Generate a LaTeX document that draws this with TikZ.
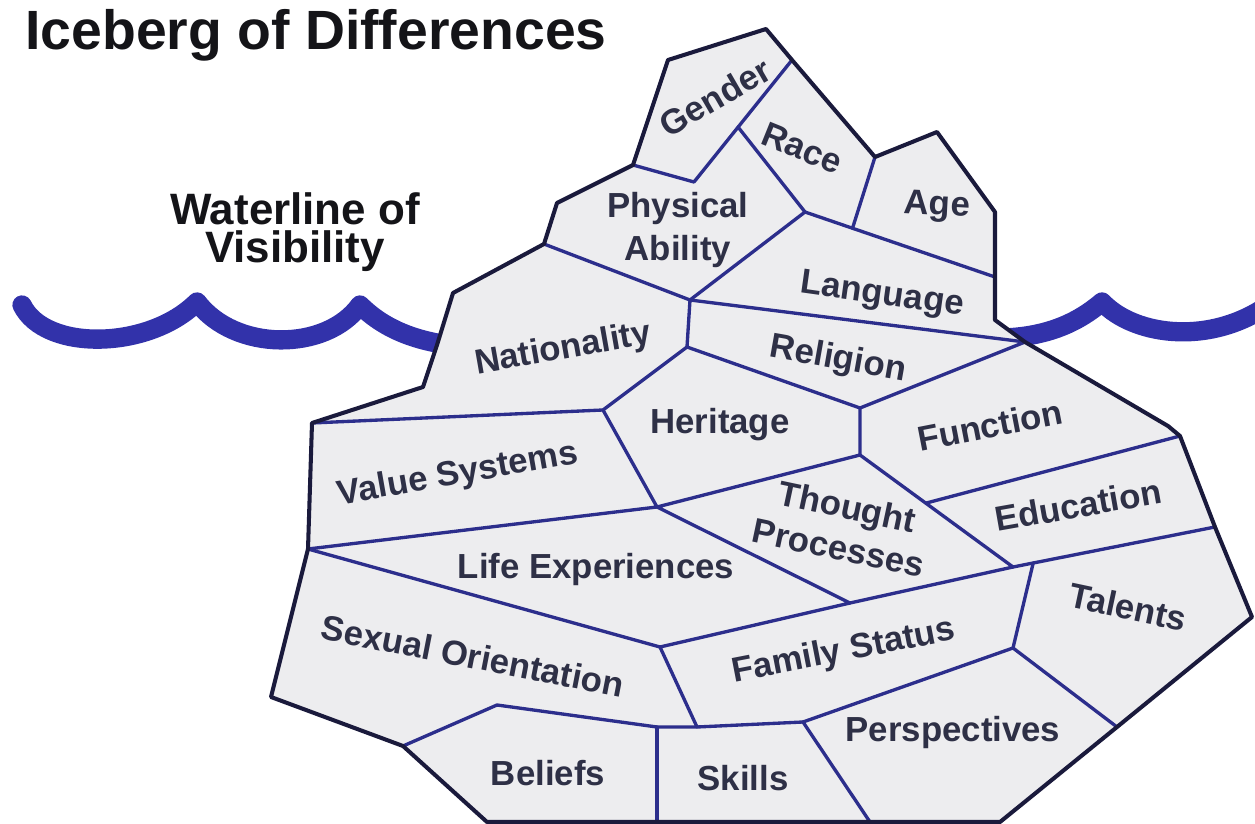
\documentclass[tikz,border=0pt]{standalone}
\usepackage{fontspec}
\setmainfont{Liberation Sans}
\usepackage{tikz}
\usetikzlibrary{calc}
\definecolor{IceFill}{RGB}{237,237,239}
\definecolor{IceEdge}{RGB}{26,26,60}
\definecolor{IceLine}{RGB}{44,46,140}
\definecolor{WaveBlue}{RGB}{50,50,170}
\definecolor{LabelInk}{RGB}{46,48,70}
\definecolor{TitleInk}{RGB}{20,20,24}
\tikzset{
  outline/.style={draw=IceEdge,line width=2.3pt,line join=round},
  seam/.style={draw=IceLine,line width=1.9pt,line cap=round,line join=round},
  wave/.style={draw=WaveBlue,line width=11pt,line cap=round,line join=round},
  part/.style={font=\fontsize{19.8}{24}\selectfont\bfseries,text=LabelInk,align=center,inner sep=0pt},
  heading/.style={font=\fontsize{31.5}{36}\selectfont\bfseries,text=TitleInk,inner sep=0pt},
  waterline/.style={font=\fontsize{25}{22}\selectfont\bfseries,text=TitleInk,align=center,inner sep=0pt}
}

\begin{document}
\begin{tikzpicture}[x=0.02cm,y=-0.02cm]
\useasboundingbox (0,0) rectangle (1255,824);

% water surface, behind the ice
\draw[wave] (22,305) .. controls (45,352) and (149,350) .. (197,302)
  .. controls (235,352) and (326,352) .. (360,305)
  .. controls (385,330) and (420,344) .. (470,347);
\draw[wave] (985,338) .. controls (1040,340) and (1075,325) .. (1102,302)
  .. controls (1135,337) and (1215,347) .. (1275,300);

% outer rim
\coordinate (o1) at (766,29);
\coordinate (o2) at (792,60);
\coordinate (o3) at (875,157);
\coordinate (o4) at (937,132);
\coordinate (o5) at (995,212);
\coordinate (o6) at (995,277);
\coordinate (o7) at (995,320);
\coordinate (o8) at (1025,342);
\coordinate (o9) at (1168,426);
\coordinate (o10) at (1180,436);
\coordinate (o11) at (1215,527);
\coordinate (o12) at (1252,617);
\coordinate (o13) at (1117,727);
\coordinate (o14) at (1000,822);
\coordinate (o15) at (870,822);
\coordinate (o16) at (657,822);
\coordinate (o17) at (487,822);
\coordinate (o18) at (403,746);
\coordinate (o19) at (271,697);
\coordinate (o20) at (308,549);
\coordinate (o21) at (312,423);
\coordinate (o22) at (423,387);
\coordinate (o23) at (437,345);
\coordinate (o24) at (453,293);
\coordinate (o25) at (544,244);
\coordinate (o26) at (557,203);
\coordinate (o27) at (633,165);
\coordinate (o28) at (668,60);

% inner junctions
\coordinate (g1) at (694,182);
\coordinate (r1) at ($(g1)!0.45!(o2)$);
\coordinate (a1) at (805,212);
\coordinate (a2) at ($(a1)!0.25!(o6)$);
\coordinate (j1) at (690,300);
\coordinate (j2) at (687,347);
\coordinate (j3) at (603,410);
\coordinate (j4) at (657,507);
\coordinate (j5) at (860,408);
\coordinate (j6) at (860,455);
\coordinate (j7) at (1013,567);
\coordinate (e1) at ($(j6)!0.43!(j7)$);
\coordinate (j8) at (850,603);
\coordinate (t1) at ($(j7)!0.1!(o11)$);
\coordinate (j9) at (1013,648);
\coordinate (j10) at (803,722);
\coordinate (j11) at (660,647);
\coordinate (j12) at (697,727);
\coordinate (b1) at (497,705);
\coordinate (b2) at (657,727);

\fill[IceFill] (o1) -- (o2) -- (o3) -- (o4) -- (o5) -- (o6) -- (o7) -- (o8) -- (o9) -- (o10)
  -- (o11) -- (o12) -- (o13) -- (o14) -- (o15) -- (o16) -- (o17) -- (o18) -- (o19) -- (o20)
  -- (o21) -- (o22) -- (o23) -- (o24) -- (o25) -- (o26) -- (o27) -- (o28) -- cycle;

\draw[seam] (o27) -- (g1) -- (o2);
\draw[seam] (r1) -- (a1) -- (j1) -- (o25);
\draw[seam] (o3) -- (a2);
\draw[seam] (a1) -- (o6);
\draw[seam] (j1) -- (j2) -- (j3) -- (o21);
\draw[seam] (j1) -- (o8) -- (j5) -- (j2);
\draw[seam] (j3) -- (j4) -- (o20);
\draw[seam] (j5) -- (j6) -- (j4) -- (j8) -- (j11) -- (o20);
\draw[seam] (j6) -- (j7) -- (o11);
\draw[seam] (e1) -- (o10);
\draw[seam] (j8) -- (j7);
\draw[seam] (t1) -- (j9) -- (o13);
\draw[seam] (j9) -- (j10) -- (o15);
\draw[seam] (j11) -- (j12) -- (j10);
\draw[seam] (o18) -- (b1) -- (b2) -- (j12);
\draw[seam] (b2) -- (o16);

\draw[outline] (o1) -- (o2) -- (o3) -- (o4) -- (o5) -- (o6) -- (o7) -- (o8) -- (o9) -- (o10)
  -- (o11) -- (o12) -- (o13) -- (o14) -- (o15) -- (o16) -- (o17) -- (o18) -- (o19) -- (o20)
  -- (o21) -- (o22) -- (o23) -- (o24) -- (o25) -- (o26) -- (o27) -- (o28) -- cycle;

\node[part, rotate=30] (gender) at (715,97) {Gender};
\node[part, rotate=-22] (race) at (802,148) {Race};
\node[part, rotate=-3] (age) at (937,207) {Age};
\node[part] (physical) at (678,230) {Physical\\Ability};
\node[part, rotate=-8] (language) at (882,296) {Language};
\node[part, rotate=10] (nationality) at (563,350) {Nationality};
\node[part, rotate=-10] (religion) at (838,360) {Religion};
\node[part] (heritage) at (720,425) {Heritage};
\node[part, rotate=11] (function) at (990,425) {Function};
\node[part, rotate=10] (values) at (458,475) {Value Systems};
\node[part, rotate=-12] (thought) at (843,527) {Thought\\Processes};
\node[part, rotate=10] (education) at (1078,505) {Education};
\node[part] (life) at (596,570) {Life Experiences};
\node[part, rotate=-12] (talents) at (1128,607) {Talents};
\node[part, rotate=-11] (orientation) at (473,656) {Sexual Orientation};
\node[part, rotate=11] (family) at (844,652) {Family Status};
\node[part] (perspectives) at (953,733) {Perspectives};
\node[part] (skills) at (743,778) {Skills};
\node[part] (beliefs) at (548,773) {Beliefs};

\node[heading, anchor=base west] (title) at (25,50) {Iceberg of Differences};
\node[waterline] (waterline) at (295,232) {Waterline of\\Visibility};
\end{tikzpicture}
\end{document}
